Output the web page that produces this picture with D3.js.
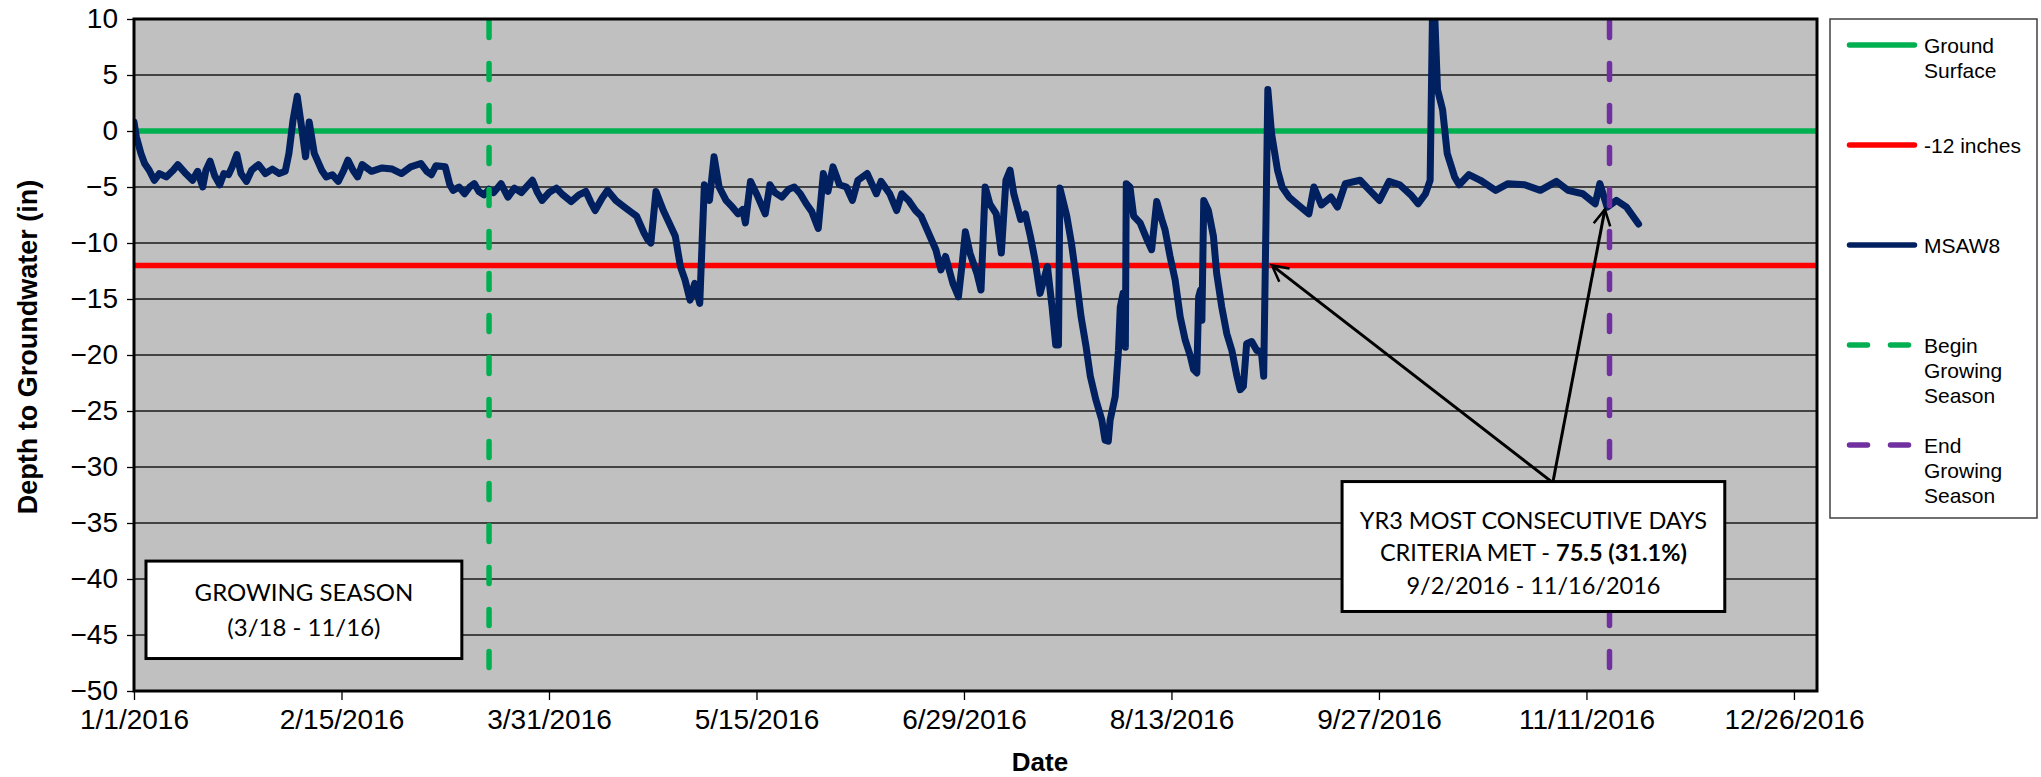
<!DOCTYPE html>
<meta charset="utf-8">
<script src="https://d3js.org/d3.v7.min.js"></script>
<style>
	body{
		margin:0;
		background:#fff;
		font-family:'Liberation Sans', Arial, sans-serif;
	}
	.box text{
		font-family:Lato, 'Open Sans', sans-serif;
	}
</style>
<div id="chart"></div>

<script>
	// days since 1/1/2016 and depth (in) for well MSAW8
	var msawDays = [0,0.5,1.5,2.3,3.3,4.4,5.5,7,8.5,9.5,11,12.7,13.8,14.9,15.6,16.5,17.5,18.6,19.5,20.5,21.3,22.3,23.2,24.4,25.5,27,28.5,30,31.5,32.8,33.6,34.5,35.4,36.3,37.2,38,39.1,40.7,41.7,43,44.3,45.5,46.4,47.5,48.5,49.5,51.5,53.8,56,58,60,62.2,63.5,64.5,65.5,67.5,68.5,69.2,70.5,71.7,72.8,73.8,74.8,75.9,77,78,79.6,81.1,82.5,84,86.4,87.5,88.5,90,91.6,93,94.8,96.5,98,99,100,101.5,102.7,104.5,106.4,108,109,110.6,111.4,112.1,112.7,113.2,114.8,116.4,117.4,118.5,119.5,120.6,121.6,122.7,123.2,123.7,124.8,125.8,126.9,128.4,129.8,131,132,132.6,133.7,135,136.9,137.9,139,140.5,142,143.2,144.5,145.8,147,148.4,149.5,150.5,151.6,153,154.5,155.8,157,159,161,162,163.9,165.4,166.5,168,169.5,170.7,172.3,173.9,175,176,177.6,178.8,179.7,180.3,181.3,182.8,183.7,184.6,185.6,187,188.1,189.1,190,190.8,192.3,193.3,194.4,195.4,196.5,198.1,199.1,199.9,200.5,200.8,202.3,203.3,204.4,205.4,206.5,207.4,208.6,209.9,210.6,211.3,211.7,212.8,213.5,213.9,214.5,215,215.2,216,216.8,218.2,219.7,220.7,221.8,222.9,223.6,224.7,225.8,226.9,228,229.1,229.8,230.5,230.9,231.3,231.6,232,233,234.1,234.8,235.9,237,238.1,239.2,239.9,240.6,241.3,242.4,243.5,244.5,245,245.5,245.9,246.7,248,249,250.5,252.2,254.8,255.9,257.5,259.6,261,262.7,265.9,268,270.1,272.2,274.5,276.9,278.5,280.1,281.1,281.6,282.1,282.7,283.8,284.8,286.4,287.4,289.5,292,295.3,298,301.6,305,308.5,311,314.2,316.9,317.9,319.5,321.5,323.7,326.3]
	var msawDepth = [0.8,-0.5,-2.0,-2.9,-3.5,-4.4,-3.8,-4.1,-3.5,-3.0,-3.7,-4.4,-3.6,-5.0,-3.5,-2.7,-4.0,-4.8,-3.8,-3.9,-3.2,-2.1,-3.8,-4.5,-3.5,-3.0,-3.8,-3.4,-3.8,-3.6,-2.0,1.0,3.1,0.5,-2.3,0.8,-2.0,-3.5,-4.1,-3.9,-4.5,-3.5,-2.6,-3.5,-4.1,-3.0,-3.6,-3.3,-3.4,-3.8,-3.2,-2.9,-3.6,-3.9,-3.1,-3.2,-4.8,-5.3,-5.0,-5.6,-5.0,-4.7,-5.4,-5.7,-5.2,-5.5,-4.7,-5.9,-5.1,-5.5,-4.4,-5.5,-6.2,-5.5,-5.1,-5.7,-6.3,-5.7,-5.4,-6.3,-7.1,-6.0,-5.3,-6.2,-6.8,-7.3,-7.6,-9.1,-9.7,-10.0,-7.5,-5.4,-7.1,-8.5,-9.4,-12.1,-13.3,-15.1,-13.6,-15.4,-10,-4.8,-6.2,-2.3,-5.0,-6.2,-6.8,-7.4,-7.0,-8.2,-4.5,-5.6,-7.4,-4.8,-5.5,-5.9,-5.2,-5.0,-5.6,-6.5,-7.2,-8.7,-3.8,-5.4,-3.2,-4.8,-5.0,-6.2,-4.4,-3.8,-5.6,-4.5,-5.6,-7.1,-5.6,-6.2,-7.1,-7.6,-9.1,-10.6,-12.4,-11.2,-13.6,-14.8,-11.5,-9.0,-10.9,-12.7,-14.2,-5.0,-6.5,-7.4,-10.9,-4.4,-3.5,-5.6,-7.9,-7.4,-9.4,-11.5,-14.5,-12.1,-15.7,-19.1,-19.1,-5.1,-7.6,-10.0,-13.3,-16.6,-19.3,-21.9,-24.0,-25.8,-27.6,-27.7,-25.8,-23.7,-19.6,-15.7,-14.5,-19.3,-4.7,-5.0,-7.6,-8.2,-9.7,-10.6,-6.3,-7.9,-8.8,-11.2,-13.3,-16.6,-18.7,-20.1,-21.3,-21.6,-14.8,-14.2,-16.9,-6.2,-7.1,-9.4,-12.7,-15.7,-18.1,-19.6,-21.9,-23.1,-22.8,-19.0,-18.8,-19.6,-19.7,-21.9,-8,3.7,-0.2,-3.5,-5.0,-5.9,-6.5,-7.4,-5.0,-6.6,-5.9,-6.8,-4.7,-4.4,-5.3,-6.2,-4.5,-4.8,-5.7,-6.5,-5.6,-4.4,10.3,10.3,3.7,1.9,-2.0,-4.1,-4.8,-3.9,-4.4,-5.3,-4.7,-4.8,-5.3,-4.5,-5.3,-5.6,-6.5,-4.7,-6.8,-6.2,-6.8,-8.3]

	var groundSurface = 0
	var criteriaDepth = -12
	var beginSeason = "2016-03-18"
	var endSeason = "2016-11-16"

	var yTicks = [10,5,0,-5,-10,-15,-20,-25,-30,-35,-40,-45,-50]
	var xTickDays = [0,45,90,135,180,225,270,315,360]

	var legendNames = [["Ground","Surface"],["-12 inches"],["MSAW8"],["Begin","Growing","Season"],["End","Growing","Season"]]
	var legendColors = ["#00B050","#FF0000","#002060","#00B050","#7030A0"]
	var legendDashed = [false,false,false,true,true]

	var seasonText = ["GROWING SEASON","(3/18 - 11/16)"]
	var criteriaText = ["YR3 MOST CONSECUTIVE DAYS","CRITERIA MET - ","75.5 (31.1%)","9/2/2016 - 11/16/2016"]
	// arrow tips (day, depth) pointing at 9/2 crossing and end of season
	var arrowTips = [[246.8,-12],[319,-7]]
	var arrowTail = [307.7,-31.4]

	var w = 2041
	var h = 777
	var pLeft = 134, pRight = 1817, pTop = 19, pBottom = 691

	var start = new Date(2016,0,1)
	function dayToDate(d){ return new Date(start.getTime()+d*86400000) }
	var parse = d3.timeParse("%Y-%m-%d")

	var x = d3.scaleTime().domain([start,new Date(2016,11,31)]).range([pLeft,pRight])
	var y = d3.scaleLinear().domain([-50,10]).range([pBottom,pTop])

	var svg = d3.select("#chart").append("svg").attr("width",w).attr("height",h)

	svg.append("defs").append("clipPath").attr("id","plotClip")
		.append("rect").attr("x",pLeft).attr("y",pTop).attr("width",pRight-pLeft).attr("height",pBottom-pTop)

	var marker = svg.select("defs").append("marker")
		.attr("id","arrowHead")
		.attr("viewBox","0 0 20 20")
		.attr("refX",17).attr("refY",10)
		.attr("markerWidth",7).attr("markerHeight",7)
		.attr("markerUnits","strokeWidth")
		.attr("orient","auto")
	marker.append("path").attr("d","M2,2 L17,10 L2,18").attr("fill","none").attr("stroke","#000").attr("stroke-width",2.4)

	// plot background
	svg.append("rect").attr("x",pLeft).attr("y",pTop).attr("width",pRight-pLeft).attr("height",pBottom-pTop).attr("fill","#C0C0C0")

	// gridlines
	svg.append("g").selectAll("line")
		.data(yTicks.filter(function(t){ return t<10 && t>-50 }))
		.join("line")
		.attr("x1",pLeft).attr("x2",pRight)
		.attr("y1",function(d){ return y(d) }).attr("y2",function(d){ return y(d) })
		.attr("stroke","#1a1a1a").attr("stroke-width",1.6)

	// y axis
	var yAxis = svg.append("g").attr("transform","translate("+pLeft+",0)")
		.call(d3.axisLeft(y).tickValues(yTicks).tickSize(7).tickPadding(9).tickFormat(d3.format("d")))
	yAxis.select(".domain").remove()
	yAxis.selectAll("line").attr("stroke","#000").attr("stroke-width",1.3)
	yAxis.selectAll("text").attr("font-size","28px").attr("font-family","'Liberation Sans', Arial, sans-serif").attr("fill","#000")

	// x axis
	var fmt = d3.timeFormat("%-m/%-d/%Y")
	var xAxis = svg.append("g").attr("transform","translate(0,"+pBottom+")")
		.call(d3.axisBottom(x).tickValues(xTickDays.map(dayToDate)).tickSize(9).tickPadding(9).tickFormat(fmt))
	xAxis.select(".domain").remove()
	xAxis.selectAll("line").attr("stroke","#000").attr("stroke-width",1.3)
	xAxis.selectAll("text").attr("font-size","28px").attr("font-family","'Liberation Sans', Arial, sans-serif").attr("fill","#000")

	// reference lines
	svg.append("line").attr("x1",pLeft).attr("x2",pRight).attr("y1",y(groundSurface)).attr("y2",y(groundSurface))
		.attr("stroke","#00B050").attr("stroke-width",5.5)
	svg.append("line").attr("x1",pLeft).attr("x2",pRight).attr("y1",y(criteriaDepth)).attr("y2",y(criteriaDepth))
		.attr("stroke","#FF0000").attr("stroke-width",5.5)

	// well series
	var series = msawDays.map(function(d,i){ return {date:dayToDate(d), v:msawDepth[i]} })
	var line = d3.line().x(function(d){ return x(d.date) }).y(function(d){ return y(d.v) })
	svg.append("path").datum(series)
		.attr("clip-path","url(#plotClip)")
		.attr("d",line)
		.attr("fill","none")
		.attr("stroke","#002060")
		.attr("stroke-width",7)
		.attr("stroke-linejoin","round")
		.attr("stroke-linecap","round")

	// growing season markers
	var seasonLines = [[beginSeason,"#00B050"],[endSeason,"#7030A0"]]
	svg.append("g").selectAll("line").data(seasonLines).join("line")
		.attr("x1",function(d){ return x(parse(d[0])) }).attr("x2",function(d){ return x(parse(d[0])) })
		.attr("y1",pTop+2.5).attr("y2",pBottom)
		.attr("stroke",function(d){ return d[1] })
		.attr("stroke-width",5.5)
		.attr("stroke-linecap","round")
		.attr("stroke-dasharray","16,26")

	// plot border
	svg.append("rect").attr("x",pLeft).attr("y",pTop).attr("width",pRight-pLeft).attr("height",pBottom-pTop)
		.attr("fill","none").attr("stroke","#000").attr("stroke-width",3)

	// arrows
	svg.append("g").selectAll("line").data(arrowTips).join("line")
		.attr("x1",x(dayToDate(arrowTail[0]))).attr("y1",y(arrowTail[1]))
		.attr("x2",function(d){ return x(dayToDate(d[0])) }).attr("y2",function(d){ return y(d[1]) })
		.attr("stroke","#000").attr("stroke-width",3)
		.attr("marker-end","url(#arrowHead)")

	// text boxes
	function drawBox(d0,d1,v0,v1){
		var g = svg.append("g").attr("class","box")
		g.append("rect")
			.attr("x",x(dayToDate(d0))).attr("y",y(v0))
			.attr("width",x(dayToDate(d1))-x(dayToDate(d0))).attr("height",y(v1)-y(v0))
			.attr("fill","#fff").attr("stroke","#000").attr("stroke-width",3)
		g.cx = (x(dayToDate(d0))+x(dayToDate(d1)))/2
		g.top = y(v0)
		return g
	}

	var sBox = drawBox(2.6,71.1,-38.4,-47.1)
	sBox.selectAll("text.l").data(seasonText).join("text")
		.attr("x",sBox.cx).attr("y",function(d,i){ return sBox.top+40+i*35 })
		.attr("text-anchor","middle").attr("font-size","24px").attr("fill","#000")
		.text(function(d){ return d })

	var cBox = drawBox(262,345,-31.3,-42.9)
	cBox.append("text").attr("x",cBox.cx).attr("y",cBox.top+47)
		.attr("text-anchor","middle").attr("font-size","23.5px").text(criteriaText[0])
	var t2 = cBox.append("text").attr("x",cBox.cx).attr("y",cBox.top+79)
		.attr("text-anchor","middle").attr("font-size","23.5px")
	t2.append("tspan").text(criteriaText[1])
	t2.append("tspan").attr("font-weight","bold").text(criteriaText[2])
	cBox.append("text").attr("x",cBox.cx).attr("y",cBox.top+112)
		.attr("text-anchor","middle").attr("font-size","23.5px").text(criteriaText[3])

	// axis titles
	svg.append("text").attr("x",1040).attr("y",771).attr("text-anchor","middle")
		.attr("font-size","26px").attr("font-weight","bold").text("Date")
	svg.append("text").attr("transform","translate(37,"+((pTop+pBottom)/2 - 8)+") rotate(-90)")
		.attr("text-anchor","middle").attr("font-size","27px").attr("font-weight","bold")
		.text("Depth to Groundwater (in)")

	// legend
	var lg = svg.append("g")
	lg.append("rect").attr("x",1830).attr("y",19).attr("width",207).attr("height",499)
		.attr("fill","#fff").attr("stroke","#404040").attr("stroke-width",1.5)
	var items = lg.selectAll("g.item").data(legendNames).join("g")
		.attr("transform",function(d,i){ return "translate(1847,"+(45+i*100)+")" })
	items.append("line")
		.attr("x1",2.5).attr("x2",function(d,i){ return legendDashed[i] ? 61.5 : 67.5 })
		.attr("y1",0).attr("y2",0)
		.attr("stroke",function(d,i){ return legendColors[i] })
		.attr("stroke-width",5.5).attr("stroke-linecap","round")
		.attr("stroke-dasharray",function(d,i){ return legendDashed[i] ? "18,23" : null })
	items.each(function(d){
		var t = d3.select(this).append("text").attr("x",77).attr("y",7.5).attr("font-size","21px").attr("fill","#000")
		d.forEach(function(s,j){
			t.append("tspan").attr("x",77).attr("dy",j==0?0:25).text(s)
		})
	})
</script>
